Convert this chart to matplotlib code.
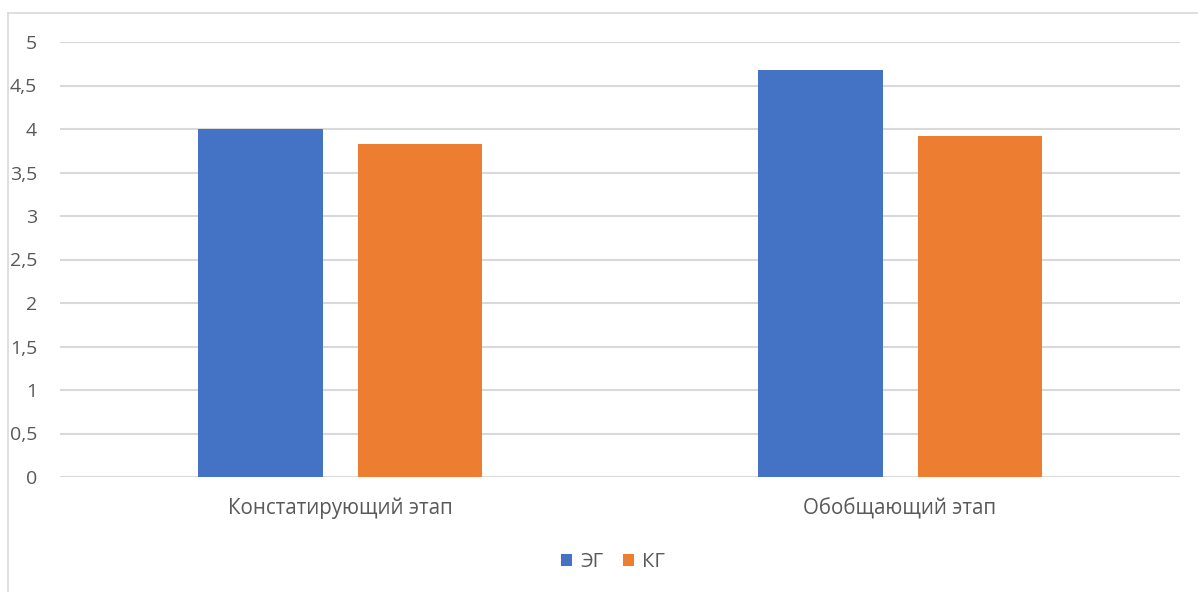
import numpy as np
import matplotlib
matplotlib.use("Agg")
import matplotlib.pyplot as plt
from matplotlib.lines import Line2D
from matplotlib.transforms import Bbox, TransformedBbox

# data
stages = ["Констатирующий этап", "Обобщающий этап"]
eg_vals = [4.0, 4.68]
kg_vals = [3.83, 3.92]
y_ticks = [0, 0.5, 1, 1.5, 2, 2.5, 3, 3.5, 4, 4.5, 5]
y_labels = ["0", "0,5", "1", "1,5", "2", "2,5", "3", "3,5", "4", "4,5", "5"]

W, H = 1198, 592
plt.rcParams['font.family'] = ['Open Sans', 'DejaVu Sans']

fig = plt.figure(figsize=(W / 100, H / 100), dpi=100)
ax = fig.add_axes([60 / W, 1 - 477 / H, 1120 / W, 435 / H])

x = np.arange(len(stages)) + 0.5
bw = 0.223
gap = 0.0625
ax.bar(x - (bw + gap) / 2, eg_vals, bw, color="#4472C4", label="ЭГ", zorder=3)
ax.bar(x + (bw + gap) / 2, kg_vals, bw, color="#ED7D31", label="КГ", zorder=3)

ax.set_xlim(0, 2)
ax.set_ylim(0, 5)
ax.set_yticks(y_ticks)
ax.set_yticklabels(y_labels, fontsize=14)
ax.set_xticks(x)
ax.set_xticklabels(stages, fontsize=14.8)
ax.yaxis.grid(True, color="#D9D9D9", linewidth=1.5, zorder=0)
for s in ax.spines.values():
    s.set_visible(False)
ax.tick_params(axis="both", length=0, colors="#595959")
ax.tick_params(axis="y", pad=16.5)
ax.tick_params(axis="x", pad=15)

# labels get cut by the chart frame on the left
clip = TransformedBbox(Bbox([[9 / W, 0], [1, 1]]), fig.transFigure)
for lbl in ax.get_yticklabels():
    lbl.set_clip_box(clip)
    lbl.set_clip_on(True)

fig.legend(loc="center", bbox_to_anchor=(613 / W, 1 - 562 / H), ncol=2,
           frameon=False, fontsize=14.5, labelcolor="#595959",
           handlelength=0.55, handleheight=0.55, handletextpad=0.4,
           columnspacing=1.0)

# chart frame (top and left edges visible)
fig.add_artist(Line2D([8 / W, 8 / W], [0, 1 - 13 / H], transform=fig.transFigure,
                      color="#D9D9D9", linewidth=1.2))
fig.add_artist(Line2D([8 / W, 1], [1 - 13 / H, 1 - 13 / H], transform=fig.transFigure,
                      color="#D9D9D9", linewidth=1.2))

fig.savefig("out.png", dpi=100)
